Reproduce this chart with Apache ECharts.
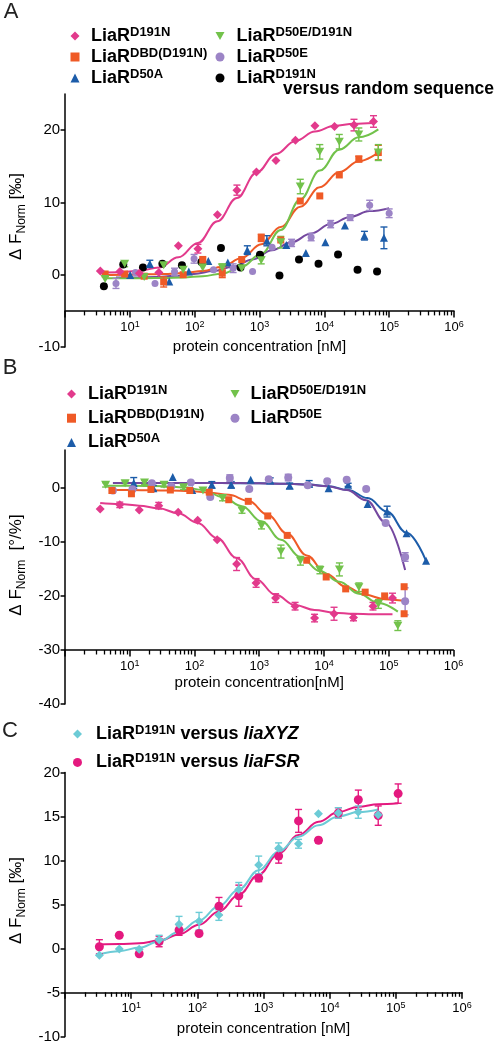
<!DOCTYPE html>
<html><head><meta charset="utf-8">
<script src="https://cdn.jsdelivr.net/npm/echarts@6/dist/echarts.min.js"></script>
<style>html,body{margin:0;padding:0;background:#fff}#c{width:496px;height:1044px}</style>
</head><body><div id="c"></div>
<script>
// ---------- Panel A ----------
const concA_pink = [3.5, 7, 14, 28, 56, 112, 224, 448, 895, 1790, 3580, 7160, 14325, 28650, 57300];
const valA_pink = [0.5, 0.45, 0.2, 0.3, 4.0, 3.6, 8.3, 11.7, 14.2, 15.8, 18.6, 20.6, 20.5, 20.7, 21.2];
const errA_pink = [0, 0, 0, 0, 0, 0.6, 0, 0.7, 0, 0, 0, 0, 0, 0.8, 0.8];
const fitA_pink = [0.3, 0.35, 0.55, 1.0, 2.4, 4.4, 7.4, 10.6, 14.1, 16.7, 18.5, 19.8, 20.6, 20.9, 21.0];

const concA_orange = [4.15, 8.3, 16.6, 33.2, 66.4, 133, 266, 531, 1062, 2125, 4250, 8500, 17000, 34000, 68000];
const valA_orange = [0.1, 0.1, -0.2, -1.0, 0.0, 2.0, 0.2, 2.1, 5.1, 4.8, 10.2, 10.9, 13.8, 16.0, 16.9];
const errA_orange = [0, 0, 0, 0.7, 0, 0.5, 0.6, 0, 0.5, 0, 0, 0, 0, 0.4, 1.0];
const fitA_orange = [-0.05, 0.0, 0.05, 0.1, 0.25, 0.5, 1.1, 2.3, 4.2, 6.6, 9.4, 12.1, 14.2, 15.7, 16.9];

const concA_green = [4.15, 8.3, 16.6, 33.2, 66.4, 133, 266, 531, 1062, 2125, 4250, 8500, 17000, 34000, 68000];
const valA_green = [-0.6, 1.5, -0.3, 1.3, 0.7, 1.0, 1.0, 0.9, 2.0, 4.5, 12.2, 17.0, 18.4, 19.4, 16.9];
const errA_green = [0, 0.4, 0, 0, 0, 0, 0.5, 0, 0.5, 0.8, 1.0, 1.0, 1.0, 0.9, 1.1];
const fitA_green = [-0.5, -0.5, -0.48, -0.45, -0.38, -0.2, 0.15, 1.1, 2.9, 6.2, 10.4, 14.4, 17.3, 19.0, 20.1];

const concA_purple = [6.1, 12.2, 24.4, 48.8, 97.7, 195, 391, 781, 1563, 3125, 6250, 12500, 25000, 50000, 100000];
const valA_purple = [-1.2, 0.3, -1.2, 0.4, 2.2, 0.7, 0.9, 0.45, 3.8, 4.4, 5.2, 7.0, 7.9, 9.6, 8.5];
const errA_purple = [0.7, 0, 0, 0.5, 0.6, 0, 0.6, 0, 0, 0.5, 0.5, 0.5, 0.4, 0.7, 0.6];
const fitA_purple = [-0.4, -0.38, -0.32, -0.15, 0.1, 0.5, 1.1, 2.1, 3.4, 4.5, 5.7, 7.0, 8.0, 8.8, 9.2];

const concA_blue = [10.1, 20.3, 40.5, 81, 162, 324, 648, 1297, 2590, 5190, 10375, 20750, 41500, 83000];
const valA_blue = [-0.05, 1.5, -0.95, 0.45, 1.9, 1.7, 3.4, 4.7, 4.1, 3.0, 4.5, 6.8, 5.4, 5.1];
const errA_blue = [0, 0.5, 0, 0, 0, 0, 0.6, 0.7, 0, 0, 0, 0, 0.6, 1.5];

const concA_black = [3.97, 7.9, 15.9, 31.7, 63.5, 127, 254, 508, 1015, 2030, 4060, 8125, 16250, 32500, 65000];
const valA_black = [-1.6, 1.4, 1.0, 1.5, 1.3, 1.75, 3.7, 1.0, 2.75, -0.1, 2.1, 1.5, 2.8, 0.7, 0.45];

// ---------- Panel B ----------
const concB_pink = [3.49, 7, 14, 28, 55.9, 112, 224, 447, 894, 1789, 3578, 7156, 14312, 28625, 57250, 114500];
const valB_pink = [-3.9, -3.15, -4.1, -3.3, -4.5, -6.0, -9.6, -14.1, -17.6, -20.4, -21.9, -24.1, -23.3, -24.0, -21.9, -20.4];
const errB_pink = [0, 0.5, 0, 0.6, 0, 0, 0, 1.2, 0.8, 0.8, 0.7, 0.7, 1.2, 0.6, 0.7, 0.9];
const fitB_pink = [-2.8, -3.0, -3.3, -3.8, -4.7, -6.5, -9.3, -13.0, -16.9, -19.8, -21.7, -22.6, -23.1, -23.3, -23.4, -23.4];

const concB_orange = [5.29, 10.6, 21.2, 42.3, 84.6, 169, 338, 677, 1354, 2708, 5415, 10830, 21660, 43325, 86650, 173300];
const valB_orange = [-0.5, -1.1, -0.3, -0.4, -0.5, -0.8, -2.2, -2.5, -5.2, -8.8, -13.4, -16.5, -18.7, -19.3, -20.0, -18.3];
const fitB_orange = [-0.4, -0.4, -0.45, -0.5, -0.6, -0.9, -1.3, -2.4, -5.0, -8.5, -12.5, -15.9, -18.3, -19.8, -20.6, -20.9];
const concB_orangeExtra = [173300];
const valB_orangeExtra = [-23.3];

const concB_green = [4.23, 8.46, 16.9, 33.8, 67.7, 135, 271, 541, 1083, 2166, 4331, 8662, 17325, 34650, 69300, 138600];
const valB_green = [0.55, 0.85, 1.0, 0.55, 0.1, -0.5, -1.9, -4.2, -7.0, -11.8, -13.5, -15.2, -15.1, -18.4, -21.5, -25.5];
const errB_green = [0.4, 0.4, 0.4, 0.4, 0.4, 0, 0.5, 0.5, 0.6, 1.2, 0.8, 0.7, 1.2, 0.8, 0.8, 0.9];
const fitB_green = [0.4, 0.4, 0.35, 0.3, 0.1, -0.4, -1.7, -3.4, -6.2, -9.6, -12.8, -15.4, -17.4, -19.6, -21.3, -22.9];

const concB_blue = [11.5, 23.1, 46.1, 92.3, 185, 369, 738, 1477, 2953, 5906, 11812, 23625, 47250, 94500, 189000, 378000];
const valB_blue = [0.9, -0.06, 2.0, -0.4, 0.55, 0.55, 1.5, 1.35, 0.37, 0.74, -0.06, 0.55, -3.0, -4.4, -8.4, -13.5];
const errB_blue = [1.0, 0.5, 0, 0, 0.6, 0.6, 0, 0.5, 0.5, 0.6, 0, 0.3, 0, 1.0, 0, 0];
const fitB_blue = [0.9, 0.9, 0.9, 0.9, 0.9, 0.85, 0.85, 0.8, 0.75, 0.6, 0.3, -0.4, -1.9, -4.4, -8.3, -13.5];

const concB_purple = [5.48, 11, 21.9, 43.8, 87.7, 175, 351, 701, 1403, 2806, 5612, 11225, 22450, 44900, 89800, 179600];
const valB_purple = [-0.5, -0.25, 0.87, 0.3, 1.0, -1.7, 1.8, -0.2, 1.6, 1.9, 0.5, 1.2, 1.5, -0.2, -6.5, -12.8];
const errB_purple = [0, 0, 0, 0, 0, 0, 0.6, 0, 0, 0.6, 0, 0, 0, 0, 0, 0.8];
const fitB_purple = [0.9, 0.9, 0.9, 0.9, 0.9, 0.9, 0.9, 0.85, 0.8, 0.75, 0.6, 0.3, -0.4, -2.3, -6.4, -15.2];
const concB_purpleExtra = [179600];
const valB_purpleExtra = [-21.0];
const errB_purpleExtra = [2.5];

// ---------- Panel C ----------
const concC_cyan = [3.3, 6.6, 13.2, 26.4, 52.8, 106, 211, 422, 845, 1689, 3378, 6756, 13512, 27025, 54050];
const valC_cyan = [-0.76, -0.05, -0.08, 1.0, 2.75, 3.1, 3.8, 6.7, 9.5, 11.4, 11.9, 15.3, 15.4, 15.5, 15.2];
const errC_cyan = [0, 0, 0, 0.5, 0.9, 1.0, 0.6, 0.8, 1.0, 0.6, 0.5, 0, 0.6, 0.7, 0];
const fitC_cyan = [-0.65, -0.3, 0.1, 0.8, 1.9, 3.2, 4.8, 6.7, 8.9, 11.0, 12.7, 14.0, 15.0, 15.5, 15.8];

const concC_mag = [3.3, 6.6, 13.2, 26.4, 52.9, 106, 212, 423, 846, 1692, 3384, 6769, 13537, 27075, 54150, 108300];
const valC_mag = [0.2, 1.5, -0.6, 0.8, 2.1, 1.7, 4.8, 6.0, 8.0, 10.5, 14.5, 12.3, 15.4, 16.9, 15.1, 17.6];
const errC_mag = [0.8, 0, 0, 0.6, 0.6, 0, 1.0, 1.2, 0.4, 0.8, 1.3, 0.3, 0.6, 1.1, 1.1, 1.1];
const fitC_mag = [0.45, 0.5, 0.6, 0.9, 1.6, 2.7, 4.2, 6.1, 8.4, 10.8, 12.9, 14.4, 15.5, 16.1, 16.4, 16.5];

// ---------- Ticks & labels ----------
const xTickSup = ['', '1', '2', '3', '4', '5', '6'];
const minorMult = [2, 3, 4, 5, 6, 7, 8, 9];
const minorDecades = [1, 10, 100, 1000, 10000, 100000];
const yTicksA = [-10, 0, 10, 20];
const yTicksB = [-40, -30, -20, -10, 0];
const yTicksC = [-10, -5, 0, 5, 10, 15, 20];
const legendSupA = ['D191N', 'DBD(D191N)', 'D50A', 'D50E/D191N', 'D50E', 'D191N'];
const legendSupB = ['D191N', 'DBD(D191N)', 'D50A', 'D50E/D191N', 'D50E'];
const legendTargetC = ['liaXYZ', 'liaFSR'];

const FONT = '"Liberation Sans", Arial, Helvetica, sans-serif';
const COL = {
  pink: '#e23a8c', orange: '#ef5a26', blue: '#1c5ca9', green: '#72c24b',
  lav: '#9c84c6', purpleLine: '#74489f', black: '#000000', cyan: '#6ccbd6', mag: '#e4197f'
};
const INV_TRI = 'path://M0,0L10,0L5,9Z';

// minor tick values (2..9 within each decade) for the log axis
const minorTickVals = [];
minorDecades.forEach(d => minorMult.forEach(m => minorTickVals.push(d * m)));

const P = { A: {x: 0, y: 0}, B: {x: 2, y: 1}, C: {x: 4, y: 2} };
const series = [];
function addFit(p, conc, fit, color) {
  series.push({type: 'line', xAxisIndex: p.x, yAxisIndex: p.y, data: conc.map((c, i) => [c, fit[i]]),
    showSymbol: false, symbol: 'none', smooth: 0.4, smoothMonotone: 'x', silent: true, z: 2,
    lineStyle: {color: color, width: 2}});
}
function addErr(p, conc, vals, errs, color) {
  const d = [];
  conc.forEach((c, i) => { if (errs[i] > 0) d.push([c, vals[i], errs[i]]); });
  if (!d.length) return;
  series.push({type: 'custom', xAxisIndex: p.x, yAxisIndex: p.y, data: d, encode: {x: 0, y: 1}, z: 3, silent: true,
    renderItem: function (params, api) {
      const x = api.value(0), y = api.value(1), e = api.value(2);
      const a = api.coord([x, y + e]), b = api.coord([x, y - e]);
      const st = {stroke: color, lineWidth: 1.4, fill: null};
      const w = 3.5;
      return {type: 'group', children: [
        {type: 'line', shape: {x1: a[0], y1: a[1], x2: b[0], y2: b[1]}, style: st},
        {type: 'line', shape: {x1: a[0] - w, y1: a[1], x2: a[0] + w, y2: a[1]}, style: st},
        {type: 'line', shape: {x1: b[0] - w, y1: b[1], x2: b[0] + w, y2: b[1]}, style: st}
      ]};
    }});
}
function addPts(p, name, conc, vals, symbol, size, color, z) {
  series.push({type: 'scatter', name: name, xAxisIndex: p.x, yAxisIndex: p.y,
    data: conc.map((c, i) => [c, vals[i]]), symbol: symbol, symbolSize: size, silent: true, z: z || 4,
    itemStyle: {color: color, opacity: 1}});
}

// Panel A
addPts(P.A, 'A6', concA_black, valA_black, 'circle', 8, COL.black, 3);
addPts(P.A, 'A3', concA_blue, valA_blue, 'triangle', 8, COL.blue);
addErr(P.A, concA_blue, valA_blue, errA_blue, COL.blue);
addFit(P.A, concA_purple, fitA_purple, COL.purpleLine);
addPts(P.A, 'A5', concA_purple, valA_purple, 'circle', 7, COL.lav);
addErr(P.A, concA_purple, valA_purple, errA_purple, COL.lav);
addFit(P.A, concA_orange, fitA_orange, COL.orange);
addPts(P.A, 'A2', concA_orange, valA_orange, 'rect', 7, COL.orange);
addErr(P.A, concA_orange, valA_orange, errA_orange, COL.orange);
addFit(P.A, concA_green, fitA_green, COL.green);
addPts(P.A, 'A4', concA_green, valA_green, INV_TRI, [9, 8], COL.green);
addErr(P.A, concA_green, valA_green, errA_green, COL.green);
addFit(P.A, concA_pink, fitA_pink, COL.pink);
addPts(P.A, 'A1', concA_pink, valA_pink, 'diamond', 9, COL.pink);
addErr(P.A, concA_pink, valA_pink, errA_pink, COL.pink);

// Panel B
addFit(P.B, concB_blue, fitB_blue, COL.blue);
addPts(P.B, 'B3', concB_blue, valB_blue, 'triangle', 8, COL.blue);
addErr(P.B, concB_blue, valB_blue, errB_blue, COL.blue);
addFit(P.B, concB_purple, fitB_purple, COL.purpleLine);
addPts(P.B, 'B5', concB_purple, valB_purple, 'circle', 8, COL.lav);
addPts(P.B, 'B5', concB_purpleExtra, valB_purpleExtra, 'circle', 8, COL.lav);
addErr(P.B, concB_purple, valB_purple, errB_purple, COL.lav);
addErr(P.B, concB_purpleExtra, valB_purpleExtra, errB_purpleExtra, COL.lav);
addFit(P.B, concB_orange, fitB_orange, COL.orange);
addPts(P.B, 'B2', concB_orange, valB_orange, 'rect', 7, COL.orange);
addPts(P.B, 'B2', concB_orangeExtra, valB_orangeExtra, 'rect', 7, COL.orange);
addFit(P.B, concB_green, fitB_green, COL.green);
addPts(P.B, 'B4', concB_green, valB_green, INV_TRI, [9, 8], COL.green);
addErr(P.B, concB_green, valB_green, errB_green, COL.green);
addFit(P.B, concB_pink, fitB_pink, COL.pink);
addPts(P.B, 'B1', concB_pink, valB_pink, 'diamond', 9, COL.pink);
addErr(P.B, concB_pink, valB_pink, errB_pink, COL.pink);

// Panel C
addFit(P.C, concC_mag, fitC_mag, COL.mag);
addPts(P.C, 'C2', concC_mag, valC_mag, 'circle', 9, COL.mag);
addErr(P.C, concC_mag, valC_mag, errC_mag, COL.mag);
addFit(P.C, concC_cyan, fitC_cyan, COL.cyan);
addPts(P.C, 'C1', concC_cyan, valC_cyan, 'diamond', 9, COL.cyan);
addErr(P.C, concC_cyan, valC_cyan, errC_cyan, COL.cyan);

// Axes
function mainX(gridIndex, offset, name, gap) {
  return {type: 'log', logBase: 10, gridIndex: gridIndex, min: 1, max: 1000000, position: 'bottom', offset: offset,
    axisLine: {show: true, onZero: false, lineStyle: {color: '#000', width: 1.5}},
    axisTick: {show: true, length: 6.5, lineStyle: {color: '#000', width: 1.5}},
    minorTick: {show: false}, splitLine: {show: false},
    axisLabel: {show: true, margin: 9, color: '#000', fontSize: 13, fontFamily: FONT, lineHeight: 15,
      formatter: function (v) { const k = Math.round(Math.log10(v)); return xTickSup[k] ? '10{sup|' + xTickSup[k] + '}' : ''; },
      rich: {sup: {fontSize: 9, lineHeight: 9, verticalAlign: 'top', fontFamily: FONT, color: '#000'}}},
    name: name, nameLocation: 'middle', nameGap: gap,
    nameTextStyle: {color: '#000', fontSize: 15, fontFamily: FONT}};
}
function minorX(gridIndex, offset) {
  return {type: 'log', logBase: 10, gridIndex: gridIndex, min: 1, max: 1000000, position: 'bottom', offset: offset,
    axisLine: {show: false, onZero: false}, axisLabel: {show: false}, splitLine: {show: false}, minorTick: {show: false},
    axisTick: {show: true, length: 4.5, customValues: minorTickVals, lineStyle: {color: '#000', width: 1.3}}};
}
function yAx(gridIndex, min, max, interval, ticks, name, pad) {
  return {type: 'value', gridIndex: gridIndex, min: min, max: max, interval: interval, position: 'left',
    axisLine: {show: true, onZero: false, lineStyle: {color: '#000', width: 1.5}},
    axisTick: {show: true, length: 4.5, customValues: ticks, lineStyle: {color: '#000', width: 1.5}},
    axisLabel: {show: true, customValues: ticks, margin: 5, color: '#000', fontSize: 15, fontFamily: FONT},
    splitLine: {show: false},
    name: name, nameLocation: 'middle', nameRotate: 90, nameGap: 21,
    nameTextStyle: {color: '#000', fontFamily: FONT, padding: [0, 0, 0, pad],
      rich: {d: {fontSize: 17, lineHeight: 22, fontFamily: FONT, color: '#000'},
             s: {fontSize: 12, lineHeight: 10, verticalAlign: 'bottom', fontFamily: FONT, color: '#000'}}}};
}

const legendText = {};
['A1', 'A2', 'A3', 'A4', 'A5', 'A6'].forEach((n, i) => { legendText[n] = '{g| }LiaR{sup|' + legendSupA[i] + '}'; });
['B1', 'B2', 'B3', 'B4', 'B5'].forEach((n, i) => { legendText[n] = '{g| }LiaR{sup|' + legendSupB[i] + '}'; });
['C1', 'C2'].forEach((n, i) => { legendText[n] = '{g| }LiaR{sup|D191N} versus {it|' + legendTargetC[i] + '}'; });

function leg(left, top, gap, data, g) {
  return {orient: 'vertical', left: left, top: top, itemGap: gap, padding: 0, itemWidth: 9, itemHeight: 9,
    selectedMode: false, data: data, formatter: function (n) { return legendText[n]; },
    textStyle: {color: '#000', fontSize: 18, fontWeight: 'bold', fontFamily: FONT, lineHeight: 20,
      rich: {g: {width: g, fontSize: 18, lineHeight: 20},
             sup: {fontSize: 13, fontWeight: 'bold', lineHeight: 10, verticalAlign: 'top', fontFamily: FONT, color: '#000'},
             it: {fontSize: 18, fontStyle: 'italic', fontWeight: 'bold', lineHeight: 20, fontFamily: FONT, color: '#000'}}}};
}

const option = {
  animation: false,
  backgroundColor: '#fff',
  textStyle: {fontFamily: FONT},
  grid: [
    {left: 65, top: 94, width: 389, height: 253},
    {left: 64, top: 450, width: 389.4, height: 254},
    {left: 65, top: 772.5, width: 397, height: 265.2}
  ],
  xAxis: [
    mainX(0, -36.1, 'protein concentration [nM]', 28), minorX(0, -36.1),
    mainX(1, -54, 'protein concentration[nM]', 25), minorX(1, -54),
    mainX(2, -44.2, 'protein concentration [nM]', 29), minorX(2, -44.2)
  ],
  yAxis: [
    yAx(0, -10, 25, 10, yTicksA, '{d|Δ F}{s|Norm}{d| [‰]}', 8),
    yAx(1, -40, 7, 10, yTicksB, '{d|Δ F}{s|Norm}{d|  [°/%]}', 24),
    yAx(2, -10, 20, 5, yTicksC, '{d|Δ F}{s|Norm}{d| [‰]}', 8)
  ],
  legend: [
    leg(70.5, 26, 1, ['A1', 'A2', 'A3'], 6.5),
    leg(215.5, 26, 1, ['A4', 'A5', 'A6'], 7),
    leg(67, 384, 4.2, ['B1', 'B2', 'B3'], 7),
    leg(230.5, 384, 4.2, ['B4', 'B5'], 6),
    leg(73, 724, 8.4, ['C1', 'C2'], 9)
  ],
  graphic: [
    {type: 'text', x: 11, y: 11.5, style: {text: 'A', fontSize: 22, fontFamily: FONT, fill: '#222', align: 'center', verticalAlign: 'middle'}},
    {type: 'text', x: 10, y: 367.5, style: {text: 'B', fontSize: 22, fontFamily: FONT, fill: '#222', align: 'center', verticalAlign: 'middle'}},
    {type: 'text', x: 10, y: 730.5, style: {text: 'C', fontSize: 22, fontFamily: FONT, fill: '#222', align: 'center', verticalAlign: 'middle'}},
    {type: 'text', x: 283, y: 89, style: {text: 'versus random sequence', fontSize: 17.5, fontWeight: 'bold', fontFamily: FONT, fill: '#000', align: 'left', verticalAlign: 'middle'}}
  ],
  series: series
};
const chart = echarts.init(document.getElementById('c'), null, {renderer: 'canvas'});
chart.setOption(option);
</script>
</body></html>
